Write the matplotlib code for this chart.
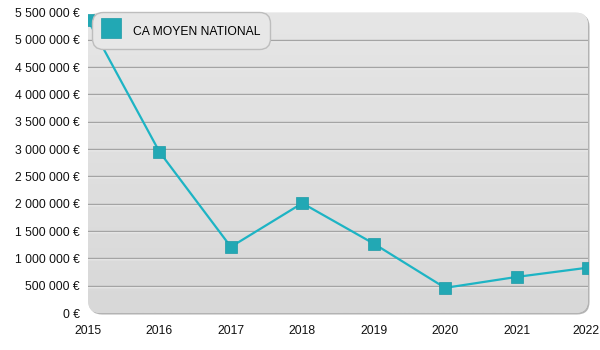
import matplotlib
matplotlib.use('Agg')
from matplotlib import pyplot as plt
from matplotlib.patches import FancyBboxPatch
from matplotlib.lines import Line2D
from matplotlib.transforms import offset_copy
import numpy as np

plt.rcParams['font.family'] = ['Liberation Sans', 'DejaVu Sans']

# chiffre d'affaires moyen national par annee
years = [2015, 2016, 2017, 2018, 2019, 2020, 2021, 2022]
ca_moyen = [5360000, 2950000, 1210000, 2010000, 1270000, 460000, 660000, 830000]
series_name = 'CA MOYEN NATIONAL'

y_ticks = np.arange(0, 5500001, 500000)

line_color = '#1db4c4'
marker_color = '#22a8b4'

fig = plt.figure(figsize=(6, 3.5), dpi=100)
ax = fig.add_axes([88/600, 37/350, 500/600, 300.5/350])
ax.set_facecolor('none')

w_px, h_px = 500, 300.5
aspect = w_px / h_px

# ombre du fond
shadow = FancyBboxPatch((1.5/w_px, -1.5/h_px), 1, 1, boxstyle='round,pad=0,rounding_size=0.025',
                        mutation_aspect=aspect, transform=ax.transAxes,
                        facecolor='#b3b3b3', edgecolor='none', zorder=0, clip_on=False)
ax.add_patch(shadow)
panel = FancyBboxPatch((0, 0), 1, 1, boxstyle='round,pad=0,rounding_size=0.025',
                       mutation_aspect=aspect, transform=ax.transAxes,
                       facecolor='#dedede', edgecolor='none', zorder=0.1, clip_on=False)
ax.add_patch(panel)

# degrade vertical du fond
grad = np.linspace(0, 1, 256).reshape(-1, 1)
im = ax.imshow(grad, extent=[0, 1, 0, 1], transform=ax.transAxes, aspect='auto',
               cmap=matplotlib.colors.LinearSegmentedColormap.from_list('bg', ['#d8d8d8', '#e6e6e6']),
               origin='lower', zorder=0.2)
im.set_clip_path(panel)

white_tr = offset_copy(ax.transData, fig=fig, x=0, y=-1, units='dots')
for yv in y_ticks[1:-1]:
    ax.plot([2015, 2022], [yv, yv], color='#f4f4f4', lw=1, transform=white_tr, zorder=1)
    ax.plot([2015, 2022], [yv, yv], color='#a4a4a4', lw=1, zorder=1.1)

ax.plot(years, ca_moyen, color=line_color, lw=1.6, zorder=3)
ax.plot(years, ca_moyen, ls='none', marker='s', markersize=9,
        markerfacecolor=marker_color, markeredgecolor='#1c9ba7', markeredgewidth=0.5, zorder=4)

ax.set_xlim(2015, 2022)
ax.set_ylim(0, 5500000)
ax.set_xticks(years)
ax.set_xticklabels([str(y) for y in years])
ax.set_yticks(y_ticks)
ax.set_yticklabels([('{:,}'.format(int(v)).replace(',', ' ') + ' €') for v in y_ticks])
ax.tick_params(length=0, labelsize=8.7, colors='#111111')
ax.tick_params(axis='x', pad=9)
ax.tick_params(axis='y', pad=6)
for s in ax.spines.values():
    s.set_visible(False)
# le dernier libelle reste dans la figure
last = ax.get_xticklabels()[-1]
last.set_transform(last.get_transform() + matplotlib.transforms.ScaledTranslation(-2/100, 0, fig.dpi_scale_trans))

handle = Line2D([], [], ls='none', marker='s', markersize=14,
                markerfacecolor=marker_color, markeredgecolor='#1c9ba7', markeredgewidth=0.5)
leg = ax.legend([handle], [series_name], loc='upper left', bbox_to_anchor=(4/w_px, 1.0),
                fontsize=8.7, frameon=True, fancybox=True, framealpha=1,
                facecolor='#e7e7e7', edgecolor='#bdbdbd', borderpad=0.8,
                handlelength=1.6, handleheight=1.8, handletextpad=1.0, borderaxespad=0.0)
leg.get_frame().set_boxstyle('round', pad=0, rounding_size=0.9)
leg.set_zorder(5)

fig.savefig('out.png', dpi=100)
